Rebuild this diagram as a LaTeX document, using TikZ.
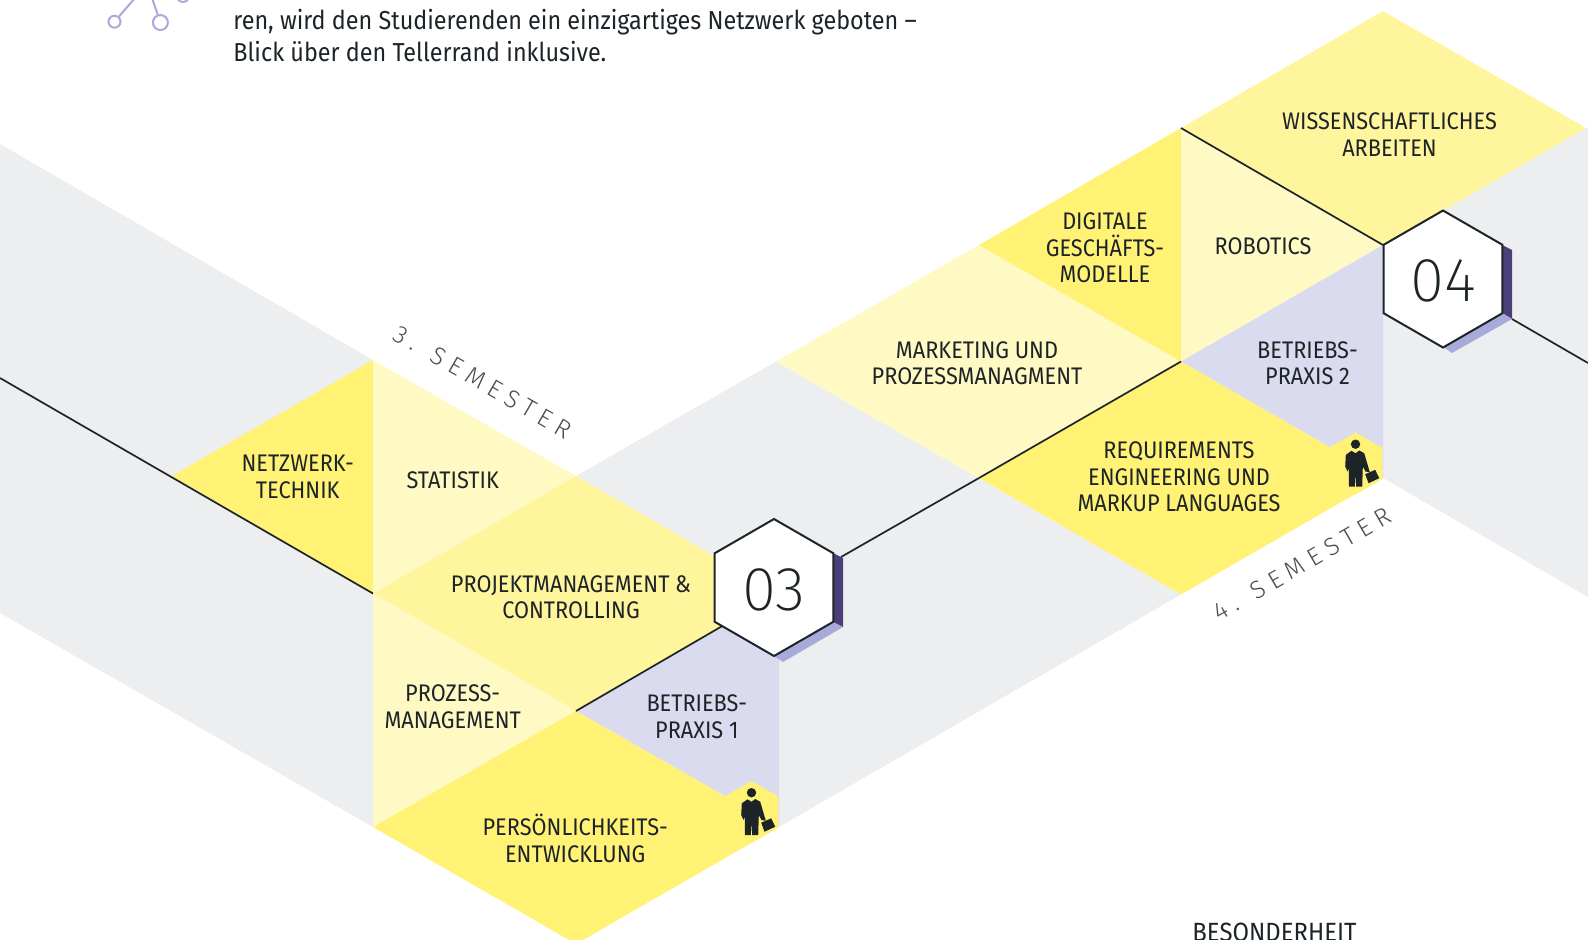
\documentclass[tikz,border=0pt]{standalone}
\usepackage{fontspec}
\setmainfont{Fira Sans}[FakeStretch=0.905]
\newfontfamily\bodyfont{Fira Sans}[FakeStretch=0.90]
\newfontfamily\semfont{Fira Sans Light}[LetterSpace=27]
\newfontfamily\numfont{Fira Sans ExtraLight}[FakeStretch=1.0]
\usetikzlibrary{shapes.geometric}

\definecolor{txtdark}{HTML}{1D2428}
\definecolor{bandgray}{HTML}{EDEEF0}
\definecolor{yellowA}{HTML}{FFF275}
\definecolor{yellowB}{HTML}{FFF59D}
\definecolor{yellowC}{HTML}{FFF9C4}
\definecolor{lavender}{HTML}{DADBEF}
\definecolor{shadelight}{HTML}{A8ABD9}
\definecolor{shadedark}{HTML}{4B3F7A}

\tikzset{
  modul/.style={align=center,text=txtdark,font=\fontsize{12}{13.3}\selectfont,inner sep=0pt,yshift=-0.4pt},
  conn/.style={draw=txtdark,line width=0.85pt},
  hexa/.style={shape=regular polygon,regular polygon sides=6,shape border rotate=30,
    draw=txtdark,fill=white,line width=1pt,minimum size=68.5pt,inner sep=0pt,outer sep=0pt},
  numlabel/.style={text=txtdark,inner sep=0pt,font=\numfont\fontsize{31}{31}\selectfont},
  smallhexa/.style={shape=regular polygon,regular polygon sides=6,shape border rotate=30,
    fill=yellowA,minimum size=31pt,inner sep=0pt,outer sep=0pt},
  sem/.style={text=txtdark!80,font=\semfont\fontsize{12.5}{14}\selectfont,inner sep=0pt},
  person/.pic={
    \fill[txtdark] (0,-19.3) circle (4.7);
    \fill[txtdark] (-4,-12.7) -- (-9.7,-8.7) -- (-10.3,3) -- (-8,8) -- (-6.7,4.7) -- (-6.7,23)
      -- (-0.7,23) -- (0,9.7) -- (0.7,23) -- (6.7,23) -- (7.3,3) -- (10,8) -- (14.3,8.7)
      -- (8.7,-10.3) -- (3.7,-13) -- (0,-10.3) -- cycle;
    \fill[txtdark] (9.7,10.7) -- (19.7,6.3) -- (23.7,14.7) -- (13,19.7) -- cycle;
  }
}

\begin{document}
\begin{tikzpicture}[x=0.5pt,y=-0.5pt]
  \useasboundingbox (0,0) rectangle (1588,939);
  \clip (0,0) rectangle (1588,939);

  % gray bands
  \fill[bandgray] (0,144) -- (373,360) -- (373,827) -- (0,613) -- cycle;
  \fill[bandgray] (576,476) -- (776,361.5) -- (1181,594.5) -- (779,827) -- (779,593) -- cycle;
  \fill[bandgray] (1383,245) -- (1586,128) -- (1588,128) -- (1588,597) -- (1383,478) -- cycle;

  % third semester
  \fill[yellowA] (172,476) -- (373,360) -- (373,593.5) -- cycle;
  \fill[yellowC] (373,360) -- (576,476) -- (373,593.5) -- cycle;
  \fill[yellowB] (373,593.5) -- (576,476) -- (779,593.5) -- (576,711) -- cycle;
  \fill[yellowC] (373,593.5) -- (576,711) -- (373,827) -- cycle;
  \fill[lavender] (576,711) -- (779,593.5) -- (779,827) -- cycle;
  \fill[yellowA] (373,827) -- (576,711) -- (779,827) -- (576,944) -- cycle;

  % fourth semester
  \fill[yellowC] (776,361.5) -- (979,245) -- (1181,361.5) -- (979,478) -- cycle;
  \fill[yellowA] (979,245) -- (1181,128) -- (1181,361.5) -- cycle;
  \fill[yellowC] (1181,128) -- (1383,245) -- (1181,361.5) -- cycle;
  \fill[yellowB] (1181,128) -- (1383,11) -- (1586,128) -- (1383,245) -- cycle;
  \fill[lavender] (1181,361.5) -- (1383,245) -- (1383,478) -- cycle;
  \fill[yellowA] (979,478) -- (1181,361.5) -- (1383,478) -- (1181,594.5) -- cycle;

  % connectors
  \coordinate (c0) at (0,378);
  \coordinate (c1) at (373,593.5);
  \coordinate (c2) at (576,711);
  \coordinate (c3) at (724,625);
  \coordinate (c4) at (841,557);
  \coordinate (c5) at (979,478);
  \coordinate (c6) at (1181,361.5);
  \coordinate (c7) at (1181,128);
  \coordinate (c8) at (1383,245);
  \coordinate (c9) at (1512,319);
  \coordinate (c10) at (1588,363);
  \path[conn] (c0) edge (c1);
  \path[conn] (c2) edge (c3);
  \path[conn] (c4) edge (c5);
  \path[conn] (c5) edge (c6);
  \path[conn] (c7) edge (c8);
  \path[conn] (c9) edge (c10);

  % hexagons with shadow
  \fill[shadedark] (833,553) -- (843,558) -- (843,627) -- (833,622) -- cycle;
  \fill[shadelight] (833,622) -- (843,627) -- (783,662) -- (774,656) -- cycle;
  \fill[shadedark] (1502,245) -- (1512,250) -- (1512,319) -- (1502,313) -- cycle;
  \fill[shadelight] (1502,313) -- (1512,319) -- (1452,353) -- (1443,347) -- cycle;
  \node[hexa] (hex3) at (774,587.5) {};
  \node[hexa] (hex4) at (1443,279) {};
  \node[numlabel] (num3) at (774,589.5) {03};
  \node[numlabel] (num4) at (1443,281) {04};

  \node[smallhexa] (small3) at (751.5,812) {};
  \node[smallhexa] (small4) at (1355.5,463.5) {};
  \pic at (small3.center) {person};
  \pic at (small4.center) {person};

  % labels
  \node[modul] (netz) at (297.7,476) {NETZWERK-\\TECHNIK};
  \node[modul] (stat) at (452.7,479) {STATISTIK};
  \node[modul] (proj) at (571,596.5) {PROJEKTMANAGEMENT \&\\CONTROLLING};
  \node[modul] (proz) at (452.7,706) {PROZESS-\\MANAGEMENT};
  \node[modul] (pers) at (575.2,837.5) {PERSÖNLICHKEITS-\\ENTWICKLUNG};
  \node[modul] (prax1) at (696.8,716) {BETRIEBS-\\PRAXIS 1};
  \node[modul] (mark) at (977,362.5) {MARKETING UND\\PROZESSMANAGMENT};
  \node[modul] (digi) at (1105,247) {DIGITALE\\GESCHÄFTS-\\MODELLE};
  \node[modul] (robo) at (1263,245) {ROBOTICS};
  \node[modul] (wiss) at (1389.5,134) {WISSENSCHAFTLICHES\\ARBEITEN};
  \node[modul] (prax2) at (1307.5,362.5) {BETRIEBS-\\PRAXIS 2};
  \node[modul] (requ) at (1179,476) {REQUIREMENTS\\ENGINEERING UND\\MARKUP LANGUAGES};

  \node[sem,rotate=-30] (sem3) at (483,382) {3. SEMESTER};
  \node[sem,rotate=30] (sem4) at (1302,564) {4. SEMESTER};

  % intro text and icon
  \node[anchor=base west,inner sep=0pt,text=txtdark,font=\bodyfont\fontsize{13}{16}\selectfont] (intro1) at (233,29) {ren, wird den Studierenden ein einzigartiges Netzwerk geboten –};
  \node[anchor=base west,inner sep=0pt,text=txtdark,font=\bodyfont\fontsize{13}{16}\selectfont] (intro2) at (233,61) {Blick über den Tellerrand inklusive.};
  \node[anchor=base west,inner sep=0pt,text=txtdark,font=\fontsize{13.2}{15}\selectfont] (beson) at (1192,941.6) {BESONDERHEIT};

  \node[shape=circle,draw=shadelight,line width=1pt,minimum size=6pt,inner sep=0pt] (ico1) at (114.5,21.7) {};
  \node[shape=circle,draw=shadelight,line width=1pt,minimum size=7.5pt,inner sep=0pt] (ico2) at (160.4,22.5) {};
  \node[shape=circle,draw=shadelight,line width=1pt,minimum size=6pt,inner sep=0pt] (ico3) at (183,-4) {};
  \coordinate (ico0a) at (135,-2);
  \coordinate (ico0b) at (152,-2);
  \path[draw=shadelight,line width=1pt] (ico0a) edge (ico1);
  \path[draw=shadelight,line width=1pt] (ico0b) edge (ico2);
\end{tikzpicture}
\end{document}
